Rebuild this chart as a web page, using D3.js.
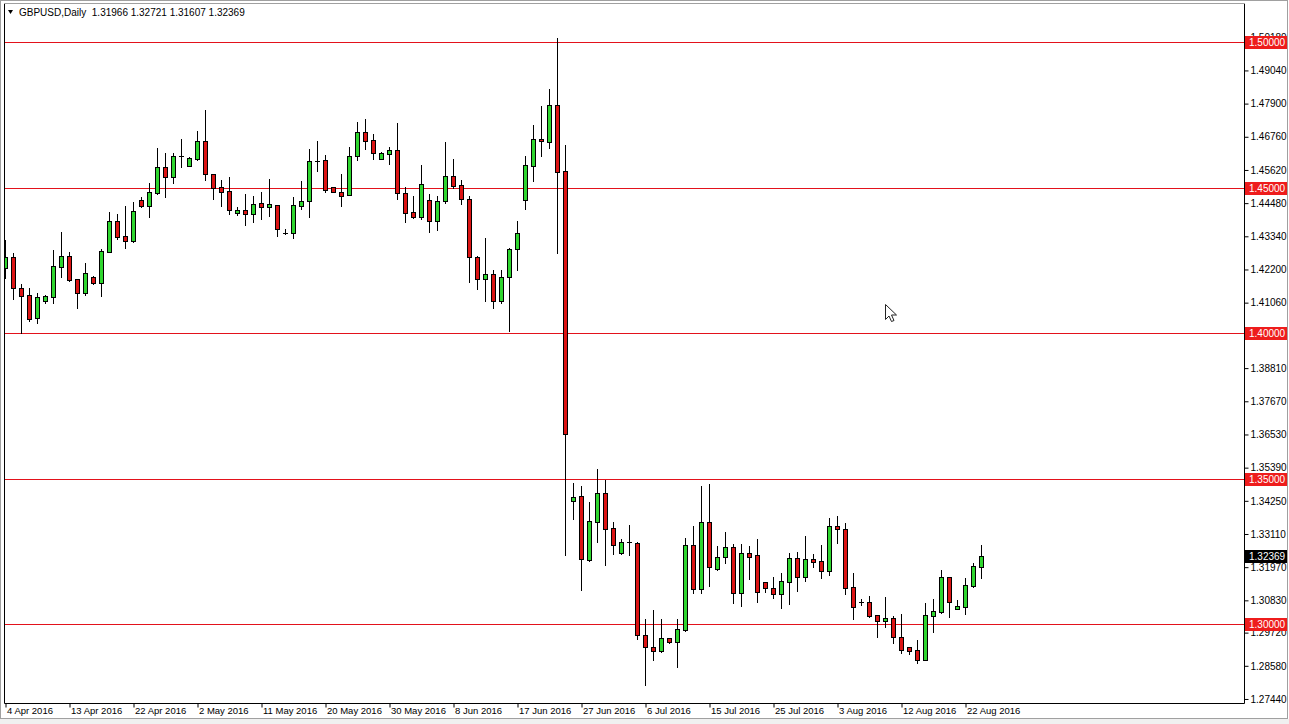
<!DOCTYPE html>
<html><head><meta charset="utf-8">
<script src="https://cdn.jsdelivr.net/npm/d3@7"></script>
<style>html,body{margin:0;padding:0;background:#fff;overflow:hidden}svg{display:block}</style>
</head><body>
<script>
// ---------- data ----------
const symbol = "GBPUSD,Daily";
const lastOHLC = ["1.31966", "1.32721", "1.31607", "1.32369"];

const open = [
1.4225,1.4263,1.4156,1.4132,1.4053,1.4112,1.4125,1.4229,1.4266,1.4187,
1.4139,1.4194,1.4174,1.4280,1.4387,1.4335,1.4318,1.4459,1.4438,1.4483,
1.4572,1.4538,1.4610,1.4576,1.4600,1.4662,1.4548,1.4503,1.4490,1.4414,
1.4424,1.4411,1.4448,1.4435,1.4442,1.4345,1.4345,1.4438,1.4455,1.4593,
1.4596,1.4503,1.4486,1.4476,1.4610,1.4692,1.4665,1.4600,1.4617,1.4631,
1.4483,1.4418,1.4400,1.4459,1.4387,1.4455,1.4541,1.4510,1.4462,1.4263,
1.4187,1.4204,1.4112,1.4194,1.4290,1.4459,1.4576,1.4668,1.4658,1.4785,
1.4558,1.3424,1.3442,1.3222,1.3352,1.3452,1.3332,1.3246,1.3284,1.3280,
1.2964,1.2923,1.2909,1.2954,1.2940,1.2981,1.3273,1.3122,1.3352,1.3191,
1.3232,1.3266,1.3108,1.3246,1.3239,1.3146,1.3125,1.3105,1.3146,1.3229,
1.3163,1.3225,1.3218,1.3184,1.3338,1.3328,1.3129,1.3077,1.3077,1.3033,
1.3012,1.3022,1.2957,1.2923,1.2912,1.2878,1.3029,1.3043,1.3163,1.3053,
1.3060,1.3132,1.31966];
const high = [
1.4321,1.4277,1.4170,1.4156,1.4139,1.4132,1.4287,1.4349,1.4280,1.4187,
1.4242,1.4198,1.4290,1.4418,1.4411,1.4438,1.4452,1.4469,1.4517,1.4637,
1.4620,1.4620,1.4668,1.4607,1.4696,1.4768,1.4548,1.4527,1.4538,1.4435,
1.4479,1.4473,1.4486,1.4531,1.4442,1.4359,1.4469,1.4524,1.4634,1.4662,
1.4613,1.4503,1.4548,1.4641,1.4727,1.4737,1.4686,1.4624,1.4641,1.4723,
1.4503,1.4473,1.4579,1.4479,1.4473,1.4658,1.4600,1.4527,1.4473,1.4266,
1.4328,1.4218,1.4218,1.4294,1.4387,1.4610,1.4716,1.4782,1.4840,1.5015,
1.4648,1.3486,1.3476,1.3421,1.3534,1.3497,1.3352,1.3294,1.3342,1.3284,
1.3019,1.3050,1.3019,1.2954,1.3019,1.3297,1.3338,1.3476,1.3483,1.3270,
1.3318,1.3277,1.3277,1.3270,1.3294,1.3146,1.3163,1.3177,1.3246,1.3249,
1.3304,1.3242,1.3273,1.3366,1.3373,1.3349,1.3177,1.3088,1.3098,1.3033,
1.3095,1.3029,1.3036,1.2923,1.2947,1.3074,1.3088,1.3187,1.3163,1.3084,
1.3160,1.3211,1.32721];
const low = [
1.4191,1.4119,1.4002,1.4043,1.4036,1.4105,1.4105,1.4194,1.4180,1.4088,
1.4132,1.4170,1.4129,1.4280,1.4325,1.4294,1.4314,1.4435,1.4400,1.4479,
1.4469,1.4517,1.4572,1.4576,1.4596,1.4527,1.4462,1.4438,1.4411,1.4407,
1.4373,1.4383,1.4393,1.4404,1.4335,1.4342,1.4328,1.4428,1.4400,1.4558,
1.4486,1.4486,1.4438,1.4476,1.4596,1.4634,1.4600,1.4600,1.4582,1.4462,
1.4383,1.4397,1.4393,1.4349,1.4356,1.4448,1.4500,1.4445,1.4177,1.4153,
1.4112,1.4088,1.4105,1.4009,1.4218,1.4428,1.4524,1.4610,1.4637,1.4278,
1.3239,1.3363,1.3119,1.3218,1.3284,1.3204,1.3242,1.3242,1.3239,1.2950,
1.2792,1.2878,1.2906,1.2936,1.2854,1.2978,1.3108,1.3108,1.3132,1.3187,
1.3211,1.3074,1.3064,1.3156,1.3077,1.3112,1.3091,1.3057,1.3070,1.3115,
1.3149,1.3198,1.3160,1.3170,1.3280,1.3105,1.3019,1.3067,1.3026,1.2957,
1.2991,1.2936,1.2902,1.2899,1.2868,1.2878,1.2974,1.3040,1.3026,1.3053,
1.3036,1.3129,1.31607];
const close = [
1.4263,1.4156,1.4129,1.4050,1.4125,1.4129,1.4232,1.4266,1.4184,1.4139,
1.4208,1.4174,1.4284,1.4387,1.4332,1.4318,1.4421,1.4438,1.4486,1.4572,
1.4538,1.4610,1.4610,1.4603,1.4662,1.4548,1.4500,1.4486,1.4424,1.4424,
1.4411,1.4445,1.4435,1.4445,1.4359,1.4345,1.4442,1.4455,1.4593,1.4593,
1.4493,1.4486,1.4473,1.4610,1.4692,1.4662,1.4620,1.4620,1.4631,1.4483,
1.4414,1.4400,1.4514,1.4387,1.4455,1.4541,1.4507,1.4462,1.4263,1.4187,
1.4204,1.4112,1.4194,1.4290,1.4347,1.4579,1.4668,1.4662,1.4785,1.4555,
1.3655,1.3438,1.3225,1.3356,1.3452,1.3328,1.3273,1.3284,1.3284,1.2964,
1.2923,1.2909,1.2954,1.2940,1.2985,1.3273,1.3122,1.3352,1.3198,1.3232,
1.3266,1.3108,1.3246,1.3232,1.3112,1.3125,1.3105,1.3149,1.3229,1.3163,
1.3225,1.3215,1.3184,1.3338,1.3328,1.3125,1.3060,1.3077,1.3029,1.3012,
1.3022,1.2957,1.2912,1.2909,1.2878,1.3033,1.3046,1.3163,1.3077,1.3064,
1.3136,1.3201,1.32369];

// bar index of each date label (one label every 8 bars) and the label text
const dateTickBars = [0,8,16,24,32,40,48,56,64,72,80,88,96,104,112,120];
const dateTickLabels = ["4 Apr 2016","13 Apr 2016","22 Apr 2016","2 May 2016","11 May 2016",
  "20 May 2016","30 May 2016","8 Jun 2016","17 Jun 2016","27 Jun 2016","6 Jul 2016",
  "15 Jul 2016","25 Jul 2016","3 Aug 2016","12 Aug 2016","22 Aug 2016"];

const priceTicks = ["1.50180","1.49040","1.47900","1.46760","1.45620","1.44480","1.43340",
  "1.42200","1.41060","1.39920","1.38810","1.37670","1.36530","1.35390","1.34250","1.33110",
  "1.31970","1.30830","1.29720","1.28580","1.27440"];
const levelLines = [1.50, 1.45, 1.40, 1.35, 1.30];
const visiblePriceRange = [1.27302, 1.51323];

// ---------- layout ----------
const W = 1289, H = 724;
const plot = {left: 4, top: 3, right: 1244, bottom: 703};
const FONT = "'Liberation Sans', Arial, sans-serif";
const BULL = "#2fd62f", BEAR = "#dc1414", LEVEL = "#e3121b";

const svg = d3.select("body").append("svg").attr("width", W).attr("height", H)
  .style("font-family", FONT);

const N = open.length;
const x = d3.scaleLinear().domain([0, N - 1]).range([5, 5 + 8 * (N - 1)]);
const y = d3.scaleLinear().domain(visiblePriceRange).range([plot.bottom, plot.top + 1]);

// window background / frame
svg.append("rect").attr("x", 0).attr("y", 0).attr("width", W).attr("height", H).attr("fill", "#fff");
svg.append("rect").attr("x", 0).attr("y", 719).attr("width", W).attr("height", 5).attr("fill", "#f0f0f0");
svg.append("rect").attr("x", 0.5).attr("y", 0.5).attr("width", W - 2).attr("height", 718)
  .attr("fill", "none").attr("stroke", "#a0a0a0");

// clip for plot area
svg.append("clipPath").attr("id", "clip").append("rect")
  .attr("x", plot.left + 1).attr("y", plot.top + 1)
  .attr("width", plot.right - plot.left - 1).attr("height", plot.bottom - plot.top - 1);

const g = svg.append("g").attr("clip-path", "url(#clip)");

// horizontal level lines
g.selectAll("line.level").data(levelLines).join("line")
  .attr("x1", plot.left).attr("x2", plot.right)
  .attr("y1", d => Math.round(y(d)) + 0.5).attr("y2", d => Math.round(y(d)) + 0.5)
  .attr("stroke", LEVEL).attr("stroke-width", 1);

// candles
const bars = d3.range(N).map(i => ({i, o: open[i], h: high[i], l: low[i], c: close[i]}));
const cg = g.selectAll("g.candle").data(bars).join("g");
cg.append("line")
  .attr("x1", d => Math.round(x(d.i)) + 0.5).attr("x2", d => Math.round(x(d.i)) + 0.5)
  .attr("y1", d => Math.round(y(d.h))).attr("y2", d => Math.round(y(d.l)) + 1)
  .attr("stroke", "#000");
cg.each(function(d) {
  const sel = d3.select(this);
  const cx = Math.round(x(d.i));
  const t = Math.round(y(Math.max(d.o, d.c)));
  const b = Math.round(y(Math.min(d.o, d.c)));
  if (b - t < 1 || d.o === d.c) {
    sel.append("line").attr("x1", cx - 2).attr("x2", cx + 3)
      .attr("y1", t + 0.5).attr("y2", t + 0.5).attr("stroke", "#000");
  } else {
    sel.append("rect").attr("x", cx - 1.5).attr("y", t + 0.5)
      .attr("width", 4).attr("height", b - t)
      .attr("fill", d.c > d.o ? BULL : BEAR).attr("stroke", "#000").attr("stroke-width", 1);
  }
});

// plot frame
svg.append("path")
  .attr("d", `M${plot.left + 0.5},${plot.top + 0.5} V${plot.bottom + 0.5} H${plot.right + 0.5} V${plot.top + 0.5}`)
  .attr("fill", "none").attr("stroke", "#000");
svg.append("line").attr("x1", plot.left).attr("x2", plot.right + 1)
  .attr("y1", plot.top + 0.5).attr("y2", plot.top + 0.5).attr("stroke", "#a0a0a0");

// price axis (right)
const yAxis = d3.axisRight(y)
  .tickValues(priceTicks.map(Number))
  .tickFormat((d, i) => priceTicks[i])
  .tickSize(4).tickPadding(2);
const ya = svg.append("g").attr("transform", `translate(${plot.right + 0.5},0)`).call(yAxis);
ya.select(".domain").remove();
ya.selectAll(".tick line").attr("stroke", "#000");
ya.selectAll(".tick text").attr("fill", "#000").style("font-size", "10px").style("font-family", FONT);

// date axis (bottom)
const xAxis = d3.axisBottom(x)
  .tickValues(dateTickBars)
  .tickFormat((d, i) => dateTickLabels[i])
  .tickSize(4).tickPadding(0);
const xa = svg.append("g").attr("transform", `translate(0.5,${plot.bottom + 0.5})`).call(xAxis);
xa.select(".domain").remove();
xa.selectAll(".tick line").attr("stroke", "#000");
xa.selectAll(".tick text").attr("fill", "#000").attr("text-anchor", "start").attr("x", 1)
  .style("font-size", "9.5px").style("font-family", FONT);

// level price boxes
const boxes = svg.append("g");
levelLines.forEach(v => {
  const yy = Math.round(y(v));
  boxes.append("rect").attr("x", plot.right + 1).attr("y", yy - 6).attr("width", 42).attr("height", 13).attr("fill", "#ee1c1c");
  boxes.append("text").attr("x", plot.right + 5).attr("y", yy + 4).attr("fill", "#fff")
    .style("font-size", "10px").text(v.toFixed(5));
});
// current price box
{
  const yy = Math.round(y(close[N - 1]));
  boxes.append("rect").attr("x", plot.right + 1).attr("y", yy - 6).attr("width", 42).attr("height", 13).attr("fill", "#000");
  boxes.append("text").attr("x", plot.right + 5).attr("y", yy + 4).attr("fill", "#fff")
    .style("font-size", "10px").text(lastOHLC[3]);
}

// header
svg.append("path").attr("d", "M8,10 L13,10 L10.5,14 Z").attr("fill", "#000");
svg.append("text").attr("x", 19).attr("y", 16).attr("fill", "#000").style("font-size", "10px")
  .attr("xml:space", "preserve")
  .text(symbol + "  " + lastOHLC.join(" "));

// mouse cursor
svg.append("path")
  .attr("transform", "translate(885.5,304.5)")
  .attr("d", "M0,0 L0,15 L3.5,11.5 L6,17 L8.5,16 L6,10.5 L11,10.5 Z")
  .attr("fill", "#fff").attr("stroke", "#222").attr("stroke-width", 1);
</script>
</body></html>
